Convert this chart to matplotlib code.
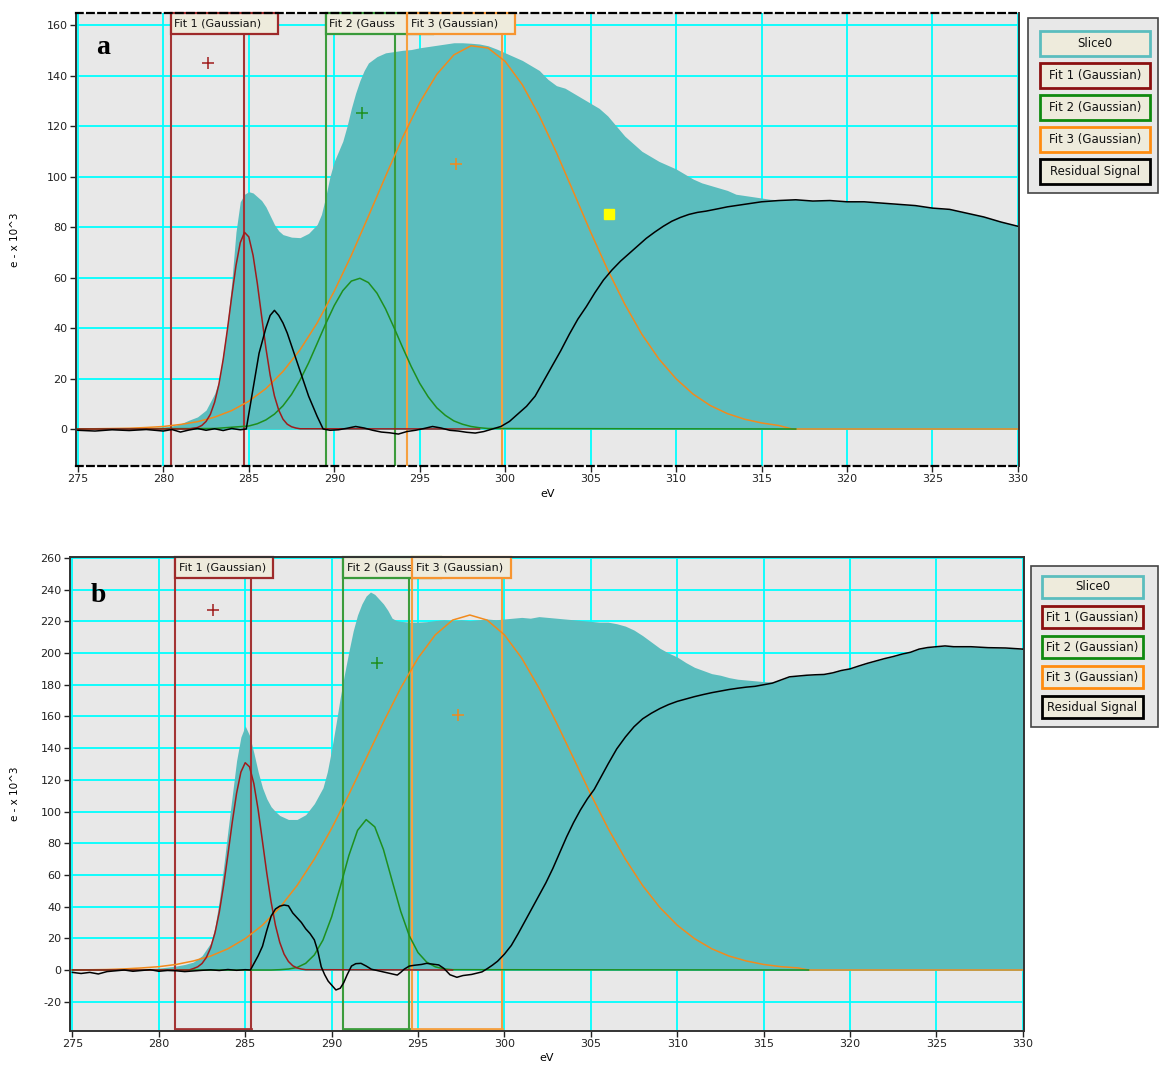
import matplotlib
matplotlib.use('Agg')
import matplotlib.pyplot as plt
from matplotlib.patches import Rectangle
import matplotlib.transforms as mtransforms

plt.rcParams['axes.unicode_minus'] = False

# ---------------- data: panel a ----------------
spec_a_E = [275, 276, 277, 278, 279, 280, 280.5, 281, 281.5, 282, 282.5, 283, 283.25, 283.5, 283.75, 284,
            284.25, 284.5, 284.75, 285, 285.25, 285.5, 285.75, 286, 286.25, 286.5, 286.75, 287, 287.5, 288,
            288.5, 289, 289.25, 289.5, 289.75, 290, 290.25, 290.5, 290.75, 291, 291.25, 291.5, 291.75, 292,
            292.5, 293, 293.5, 294, 294.5, 295, 295.5, 296, 296.5, 297, 297.5, 298, 298.5, 299, 299.5, 300,
            300.5, 301, 301.5, 302, 302.5, 303, 303.5, 304, 304.5, 305, 305.5, 306, 306.5, 307, 307.5, 308,
            308.5, 309, 309.5, 310, 310.5, 311, 311.5, 312, 312.5, 313, 313.5, 314, 314.5, 315, 315.5, 316,
            317, 318, 319, 320, 321, 322, 323, 324, 325, 326, 327, 328, 329, 330]
spec_a = [0.4, 0.5, 0.3, 0.6, 0.5, 0.8, 1.2, 2.0, 3.5, 4.8, 7.5, 14, 19, 30, 42, 58,
          78, 90, 93, 94, 93.5, 92, 90.5, 88, 84.5, 81, 78.5, 77, 76, 75.8,
          77.5, 81, 85, 92, 100, 106, 110, 114, 120, 127, 133, 138, 142, 145,
          147.5, 149, 149.5, 150, 150.3, 151, 151.5, 152, 152.5, 153, 153, 152.8, 152.5, 151.8, 150.5, 149,
          147.5, 146, 144, 142, 138.5, 136, 135, 133, 131, 129, 127, 124, 120, 116, 113, 110,
          108, 106, 104.5, 103, 101, 99, 97.5, 96.5, 95.5, 94.5, 93, 92.5, 92, 91.5, 91, 90.8,
          91, 90.5, 90.6, 90.2, 90, 89.6, 89, 88.6, 87.6, 87, 85.6, 84.2, 82.2, 80.5]

res_a_E = [275, 276, 277, 278, 279, 280, 280.5, 281, 281.5, 282, 282.5, 283, 283.5, 284, 284.5,
           284.85, 285.1, 285.35, 285.6, 286, 286.25, 286.5, 286.75, 287, 287.25, 287.5, 287.75,
           288, 288.25, 288.5, 288.75, 289, 289.35, 289.75, 290.25, 290.75, 291.25, 291.75, 292.25,
           292.75, 293.25, 293.75, 294.25, 294.75, 295.25, 295.75, 296.25, 296.75, 297.25, 297.75,
           298.25, 298.75, 299.25, 299.75, 300.25, 300.75, 301.25, 301.75, 302.25, 302.75, 303.25,
           303.75, 304.25, 304.75, 305.25, 305.75, 306.25, 306.75, 307.25, 307.75, 308.25, 308.75,
           309.25, 309.75, 310.25, 310.75, 311.25, 311.75, 312.5, 313, 314, 315, 316, 317, 318, 319,
           320, 321, 322, 323, 324, 325, 326, 327, 328, 329, 330]
res_a = [-0.5, -0.8, -0.3, -0.6, -0.2, -0.8, -0.2, -1.2, -0.4, 0.2, -0.5, 0.1, -0.6, 0.2, -0.3,
         0, 10, 20, 30, 40, 45, 47, 45, 42, 38, 33, 28,
         23, 18, 13, 9, 5, 0, -0.5, -0.3, 0.3, 1.0, 0.4, -0.5,
         -1.2, -1.5, -2.0, -1.0, -0.5, 0.2, 1.0, 0.4, -0.5, -0.8, -1.3,
         -1.6, -1.0, 0, 1, 3, 6, 9, 13, 19, 25, 31,
         37.5, 43.5, 48.5, 54, 59, 63, 66.5, 69.5, 72.5, 75.5, 78,
         80.3, 82.3, 83.8, 85, 85.8, 86.3, 87.3, 88, 89, 90, 90.5, 90.8, 90.3, 90.5,
         90, 90, 89.5, 89, 88.5, 87.5, 87, 85.5, 84, 82, 80.3]

fit1_a_E = [275, 281.5, 282.0, 282.25, 282.5, 282.75, 283.0, 283.25, 283.5, 283.75, 284.0, 284.25, 284.5,
            284.75, 285.0, 285.25, 285.5, 285.75, 286.0, 286.25, 286.5, 286.75, 287.0, 287.25, 287.5,
            287.75, 288.0, 298.5]
fit1_a = [0, 0, 0.6, 1.4, 3.0, 5.8, 10.6, 17.7, 27.5, 39.5, 52.5, 64.7, 73.8,
          77.9, 76.1, 68.8, 57.6, 44.7, 32.1, 21.3, 13.1, 7.5, 3.9, 1.9, 0.9,
          0.4, 0.1, 0]

fit2_a_E = [275, 283, 285, 285.5, 286, 286.5, 287, 287.5, 288, 288.5, 289, 289.5, 290, 290.5, 291, 291.5,
            292, 292.5, 293, 293.5, 294, 294.5, 295, 295.5, 296, 296.5, 297, 297.5, 298, 298.5, 299, 317]
fit2_a = [0, 0.2, 1.2, 2.1, 3.6, 5.9, 9.2, 13.7, 19.4, 26.2, 33.9, 41.7, 48.9, 54.8, 58.6, 59.7,
          58.0, 53.8, 47.6, 40.1, 32.3, 24.8, 18.1, 12.7, 8.4, 5.4, 3.2, 1.9, 1.0, 0.5, 0.2, 0]

fit3_a_E = [275, 278, 279, 280, 281, 282, 283, 284, 285, 286, 287, 288, 289, 290, 291, 292, 293, 294, 295,
            296, 297, 298, 299, 300, 301, 302, 303, 304, 305, 306, 307, 308, 309, 310, 311, 312, 313, 314,
            315, 316, 316.8, 330]
fit3_a = [0, 0.3, 0.6, 1.0, 1.8, 2.9, 4.7, 7.3, 11.0, 16.0, 22.8, 31.4, 42.0, 54.6, 68.8, 84.3, 100.1, 115.5,
          129.3, 140.5, 148.2, 151.8, 150.9, 145.6, 136.4, 124.0, 109.5, 93.8, 78.0, 63.0, 49.4, 37.5, 27.7,
          19.9, 13.8, 9.3, 6.1, 3.9, 2.4, 1.4, 0, 0]

# fit windows (left, right) in eV and marker positions
win_a = [(280.42, 284.7), (289.5, 293.58), (294.28, 299.8)]
mark_a = [(282.6, 145), (291.6, 125), (297.1, 105)]
yellow_a = (306.1, 85)

# ---------------- data: panel b ----------------
spec_b_E = [275, 276, 277, 278, 279, 280, 280.5, 281, 281.5, 282, 282.5, 283, 283.25, 283.5, 283.75, 284,
            284.25, 284.5, 284.75, 285, 285.25, 285.5, 285.75, 286, 286.25, 286.5, 286.75, 287, 287.5, 288,
            288.5, 289, 289.25, 289.5, 289.75, 290, 290.25, 290.5, 290.75, 291, 291.25, 291.5, 291.75, 292,
            292.25, 292.5, 292.75, 293, 293.25, 293.5, 293.75, 294, 294.5, 295, 295.5, 296, 296.5, 297,
            297.5, 298, 298.5, 299, 299.5, 300, 300.5, 301, 301.5, 302, 302.5, 303, 303.5, 304, 304.5, 305,
            305.5, 306, 306.5, 307, 307.5, 308, 308.5, 309, 309.5, 310, 310.5, 311, 311.5, 312, 312.5, 313,
            313.5, 314, 314.5, 315, 315.5, 316, 316.5, 317, 317.5, 318, 318.5, 319, 319.5, 320, 320.5, 321,
            321.5, 322, 322.5, 323, 323.5, 324, 324.5, 325, 325.5, 326, 327, 328, 329, 330]
spec_b = [-0.5, 0.3, 0.2, 0.5, 0.8, 1.2, 1.8, 2.5, 3.5, 5, 9, 17, 27, 44, 65, 88,
          110, 132, 147, 154, 148, 137, 125, 115, 108, 103, 100, 97.5, 95, 95,
          98, 105, 110, 115, 125, 139, 155, 172, 187, 201, 214, 224, 231, 236,
          238.5, 237, 234, 231, 227, 222, 220.5, 220, 219.5, 219.5, 219.8, 220.5, 221, 220.5,
          221, 220.5, 221, 221.5, 221, 221.5, 222, 222.5, 222, 223, 222.5, 222, 221.5, 221, 220.5, 220,
          219.5, 219.5, 218.5, 217, 214.5, 211, 207, 203, 200, 197.5, 194, 191, 189, 187, 186, 184.5,
          183.5, 183, 182.5, 182, 181.8, 183, 185, 185.5, 186, 186.3, 186.5, 187.5, 189, 190, 191.8, 193.5,
          195, 196.5, 197.8, 199.3, 200.5, 202.5, 203.5, 204, 204.5, 204, 204, 203.4, 203.2, 202.5]

res_b_E = [275, 275.5, 276, 276.5, 277, 277.5, 278, 278.5, 279, 279.5, 280, 280.5, 281, 281.5, 282, 282.5,
           283, 283.5, 284, 284.5, 285, 285.3, 285.5, 285.75, 286, 286.25, 286.5, 286.75, 287, 287.25, 287.5,
           287.75, 288, 288.25, 288.5, 288.75, 289, 289.2, 289.4, 289.6, 289.8, 290, 290.25, 290.5, 290.7,
           290.9, 291.15, 291.4, 291.7, 292, 292.3, 292.7, 293.1, 293.5, 293.8, 294, 294.2, 294.5, 294.8,
           295.2, 295.5, 295.8, 296.2, 296.5, 296.85, 297.25, 297.6, 298.1, 298.7, 299, 299.3, 299.6, 300,
           300.4, 300.8, 301.2, 301.6, 302, 302.4, 302.8, 303.2, 303.6, 304, 304.4, 304.8, 305.2, 305.6, 306,
           306.5, 307, 307.5, 308, 308.5, 309, 309.5, 310, 310.5, 311, 311.5, 312, 312.5, 313, 313.5, 314,
           314.5, 315, 315.5, 316, 316.5, 317, 317.5, 318, 318.5, 319, 319.5, 320, 320.5, 321, 321.5, 322,
           322.5, 323, 323.5, 324, 324.5, 325, 325.5, 326, 327, 328, 329, 330]
res_b = [-1.5, -2.2, -1.5, -2.5, -1.0, -0.5, 0, -0.8, -0.3, 0.2, -0.8, -0.3, -0.5, -1.0, -0.6, -0.2,
         0.1, -0.3, 0.3, -0.2, 0.2, 0, 4, 9, 15, 25, 34, 38.5, 40.3, 41, 40.5,
         36, 33, 30, 26, 23, 19, 12, 2, -3, -7, -9.5, -12.6, -11.5, -8,
         -3, 2.5, 4, 4.2, 2.5, 0.5, -0.5, -1.5, -2.5, -3.2, -1.5, 0.5, 2.5, 3,
         3.5, 4.2, 3.8, 3.2, 1, -3, -4.6, -3.5, -2.8, -1.2, 0.8, 3, 5.5, 10,
         15.5, 23, 31, 39, 47, 55, 64, 74, 84, 93, 101, 108, 114, 122, 130,
         139.5, 147, 153.5, 158.5, 162, 165, 167.5, 169.5, 171, 172.5, 173.8, 175, 176, 177, 177.8, 178.5,
         179, 180, 181, 183, 185, 185.5, 186, 186.3, 186.5, 187.5, 189, 190, 191.8, 193.5, 195, 196.5,
         197.8, 199.3, 200.5, 202.5, 203.5, 204, 204.5, 204, 204, 203.4, 203.2, 202.5]

fit1_b_E = [275, 281.75, 282.0, 282.25, 282.5, 282.75, 283.0, 283.25, 283.5, 283.75, 284.0, 284.25, 284.5,
            284.75, 285.0, 285.25, 285.5, 285.75, 286.0, 286.25, 286.5, 286.75, 287.0, 287.25, 287.5,
            287.75, 288.0, 288.25, 288.5, 297]
fit1_b = [0, 0, 0.9, 2.0, 4.1, 7.9, 14.0, 23.4, 36.5, 53.4, 72.9, 93.2, 111.5,
          124.9, 130.8, 128.2, 117.6, 101.0, 81.1, 61.0, 42.9, 28.2, 17.4, 10.0, 5.4,
          2.7, 1.3, 0.6, 0.2, 0]

fit2_b_E = [275, 286.5, 287, 287.5, 288, 288.5, 289, 289.5, 290, 290.5, 291, 291.5, 292, 292.5, 293, 293.5,
            294, 294.5, 295, 295.5, 296, 296.5, 297, 317.6]
fit2_b = [0, 0, 0.2, 0.6, 1.6, 4.2, 9.5, 18.9, 33.5, 52.4, 72.3, 88.1, 94.9, 90.3, 76.0, 56.4,
          37.0, 21.5, 11.0, 5.0, 2.0, 0.7, 0.2, 0]

fit3_b_E = [275, 277, 278, 279, 280, 281, 282, 283, 284, 285, 286, 287, 288, 289, 290, 291, 292, 293, 294,
            295, 296, 297, 298, 299, 300, 301, 302, 303, 304, 305, 306, 307, 308, 309, 310, 311, 312, 313,
            314, 315, 316, 317, 317.6, 330]
fit3_b = [0, 0.3, 0.7, 1.3, 2.1, 3.5, 5.7, 8.8, 13.4, 19.8, 28.3, 39.4, 53.3, 70.0, 89.3, 110.8, 133.6,
          156.4, 178.0, 196.8, 211.5, 220.8, 224.0, 220.8, 211.5, 196.8, 178.0, 156.4, 133.6, 110.8, 89.3,
          70.0, 53.3, 39.4, 28.3, 19.8, 13.4, 8.8, 5.7, 3.5, 2.1, 1.3, 0, 0]

win_b = [(280.93, 285.33), (290.65, 294.45), (294.67, 299.84)]
mark_b = [(283.15, 227.4), (292.6, 193.7), (297.3, 160.6)]

x_ticks = [275, 280, 285, 290, 295, 300, 305, 310, 315, 320, 325, 330]
y_ticks_a = [0, 20, 40, 60, 80, 100, 120, 140, 160]
y_ticks_b = [-20, 0, 20, 40, 60, 80, 100, 120, 140, 160, 180, 200, 220, 240, 260]
# the Fit 2 tab is partly hidden behind the Fit 3 tab in the original
fit_labels = ['Fit 1 (Gaussian)', 'Fit 2 (Gauss', 'Fit 3 (Gaussian)']
legend_labels = ['Slice0', 'Fit 1 (Gaussian)', 'Fit 2 (Gaussian)', 'Fit 3 (Gaussian)', 'Residual Signal']

# ---------------- styling ----------------
TEAL = '#5BBDBE'
FIT_COLORS = ['#A01C1C', '#1E8F1E', '#F28A1C']
WIN_COLORS = ['#A33434', '#3C9C3C', '#F5A040']
BOX_EDGES = ['#9E2A2A', '#3A9A3A', '#F79530']
LEG_EDGES = [TEAL, '#8B1010', '#108A10', '#FF8C10', '#000000']
BEIGE = '#EEEBDC'
BG = '#E8E8E8'
GRID = '#00FFFF'

W, H = 1160, 1068
fig = plt.figure(figsize=(W / 100, H / 100), dpi=100)
fig.patch.set_facecolor('white')


def prect(x0, y0, x1, y1):
    return [x0 / W, 1 - y1 / H, (x1 - x0) / W, (y1 - y0) / H]


def panel(ax, xlim, ylim, yticks, sE, s, rE, r, fits, wins, marks, letter, letter_pos,
          boxw, boxh, dashed, bottom_bars):
    ax.set_facecolor(BG)
    ax.set_xlim(*xlim)
    ax.set_ylim(*ylim)
    ax.set_axisbelow(True)
    ax.set_xticks(x_ticks)
    ax.set_yticks(yticks)
    ax.grid(True, color=GRID, lw=1.3, zorder=0)
    ax.fill_between(sE, 0, s, color=TEAL, lw=0, zorder=1)
    trans = mtransforms.blended_transform_factory(ax.transData, ax.transAxes)
    for i, (xl, xr) in enumerate(wins):
        ax.axvline(xl, color=WIN_COLORS[i], lw=1.5, zorder=3)
        ax.axvline(xr, color=WIN_COLORS[i], lw=1.5, zorder=3)
        if bottom_bars:
            ax.plot([xl, xr], [0.003, 0.003], transform=trans, color=WIN_COLORS[i], lw=2,
                    zorder=3, clip_on=False)
    for (E, v), c in zip(reversed(fits), reversed(FIT_COLORS)):
        ax.plot(E, v, color=c, lw=1.1, zorder=4)
    ax.plot(rE, r, color='black', lw=1.1, zorder=5)
    for i, (xl, xr) in enumerate(wins):
        rect = Rectangle((xl, 1 - boxh), boxw, boxh, transform=trans, facecolor=BEIGE,
                         edgecolor=BOX_EDGES[i], lw=1.6, zorder=10 + 2 * i, clip_on=False)
        ax.add_patch(rect)
        ax.text(xl + 0.22, 1 - boxh / 2, fit_labels[i], transform=trans, fontsize=8,
                va='center', ha='left', zorder=11 + 2 * i, color='#111111')
    for (x, y), c in zip(marks, FIT_COLORS):
        ax.plot([x], [y], marker='+', ms=8, mew=1.1, color=c, zorder=6)
    ax.text(letter_pos[0], letter_pos[1], letter, transform=ax.transAxes, fontsize=20,
            fontweight='bold', family='Liberation Serif', ha='center', va='center', zorder=20)
    ax.tick_params(axis='both', direction='out', length=4, width=1, labelsize=8, pad=2,
                   colors='#222222')
    ax.set_xlabel('eV', fontsize=8, labelpad=3)
    for side in ['left', 'right', 'top', 'bottom']:
        ax.spines[side].set_color('#333333')
        ax.spines[side].set_linewidth(1.4)
        ax.spines[side].set_zorder(30)
    if dashed:
        for side in ['top', 'bottom']:
            ax.spines[side].set_color('black')
            ax.spines[side].set_linestyle((0, (3, 2)))
            ax.spines[side].set_linewidth(1.6)


def legend(x0, y0, x1, y1, ix0, ix1, tops, h):
    fig.patches.append(Rectangle((x0 / W, 1 - y1 / H), (x1 - x0) / W, (y1 - y0) / H,
                                 transform=fig.transFigure, facecolor='#E8E8E8',
                                 edgecolor='#444444', lw=1.2))
    for t, lab, ec in zip(tops, legend_labels, LEG_EDGES):
        fig.patches.append(Rectangle((ix0 / W, 1 - (t + h) / H), (ix1 - ix0) / W, h / H,
                                     transform=fig.transFigure, facecolor=BEIGE,
                                     edgecolor=ec, lw=2))
        fig.text((ix0 + ix1) / 2 / W, 1 - (t + h / 2) / H, lab, fontsize=8.5,
                 ha='center', va='center', color='#111111')


ax_a = fig.add_axes(prect(76, 12.7, 1019.3, 466))
panel(ax_a, (274.89, 330.08), (-14.65, 164.9), y_ticks_a, spec_a_E, spec_a, res_a_E, res_a,
      [(fit1_a_E, fit1_a), (fit2_a_E, fit2_a), (fit3_a_E, fit3_a)], win_a, mark_a,
      'a', (0.0286, 0.924), 6.3, 0.046, True, False)
ax_a.plot([yellow_a[0]], [yellow_a[1]], marker='s', ms=6.5, color='#FFFF00', mec='#FFFF00', zorder=6)

ax_b = fig.add_axes(prect(70, 556.7, 1024, 1030.7))
panel(ax_b, (274.86, 330.07), (-38.3, 260.8), y_ticks_b, spec_b_E, spec_b, res_b_E, res_b,
      [(fit1_b_E, fit1_b), (fit2_b_E, fit2_b), (fit3_b_E, fit3_b)], win_b, mark_b,
      'b', (0.0294, 0.919), 5.7, 0.0443, False, True)

fig.text(15 / W, 1 - 240 / H, 'e - x 10^3', rotation=90, fontsize=7.5, ha='center', va='center')
fig.text(15 / W, 1 - 794 / H, 'e - x 10^3', rotation=90, fontsize=7.5, ha='center', va='center')

legend(1028, 18, 1158, 193, 1040, 1150, [31, 63, 95, 127, 159], 25)
legend(1031, 566, 1158, 727, 1042, 1143, [576, 606, 636, 666, 696], 22)

fig.savefig('out.png', dpi=100, facecolor='white')
